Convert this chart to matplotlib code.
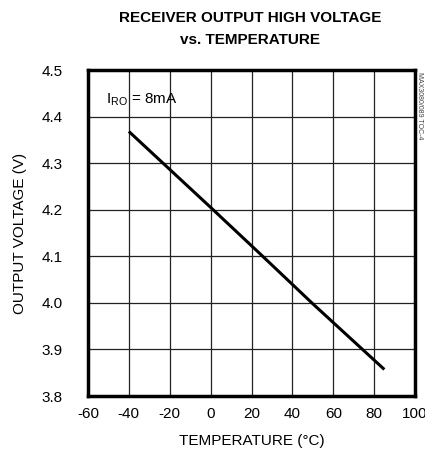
import matplotlib
matplotlib.use("Agg")
import matplotlib.pyplot as plt
from matplotlib import font_manager

temps = [-40, 0, 25, 50, 85]
voltage = [4.368, 4.205, 4.102, 3.998, 3.857]
xticks = [-60, -40, -20, 0, 20, 40, 60, 80, 100]
yticks = [3.8, 3.9, 4.0, 4.1, 4.2, 4.3, 4.4, 4.5]

names = {f.name for f in font_manager.fontManager.ttflist}
fam = ['Liberation Sans Narrow', 'Liberation Sans', 'DejaVu Sans']
fam = [f for f in fam if f in names] + ['DejaVu Sans']
plt.rcParams['font.family'] = fam
plt.rcParams['mathtext.fontset'] = 'custom'
plt.rcParams['mathtext.rm'] = fam[0]

fig = plt.figure(figsize=(4.25, 4.5), dpi=100)
ax = fig.add_axes([88/425, 1-396/450, (415-88)/425, (396-70)/450])
ax.plot(temps, voltage, color='black', lw=2.2, solid_capstyle='butt')
ax.set_xlim(-60, 100)
ax.set_ylim(3.8, 4.5)
ax.set_xticks(xticks)
ax.set_yticks(yticks)
ax.set_xticklabels([str(t) for t in xticks])
ax.set_yticklabels([f"{v:.1f}" for v in yticks])
ax.grid(True, color='#222222', lw=0.9)
ax.tick_params(axis='x', length=0, labelsize=11, pad=8)
ax.tick_params(axis='y', length=0, labelsize=11, pad=18)
for s in ax.spines.values():
    s.set_linewidth(2.5)
ax.set_xlabel('TEMPERATURE (°C)', fontsize=11, labelpad=9)
ax.set_ylabel('OUTPUT VOLTAGE (V)', fontsize=11, labelpad=11)
ax.text(-51, 4.455, r'I$_{\mathregular{RO}}$ = 8mA', fontsize=11, va='top', ha='left')
fig.text(250/425, 1-11/450, 'RECEIVER OUTPUT HIGH VOLTAGE\nvs. TEMPERATURE',
         ha='center', va='top', fontsize=11, fontweight='bold', linespacing=1.75)
fig.text(419/425, 1-72/450, 'MAX3080/089 TOC-4', rotation=-90, ha='center', va='top',
         fontsize=5, color='#444444')
ax.set_axisbelow(True)
fig.savefig('out.png', dpi=100)
